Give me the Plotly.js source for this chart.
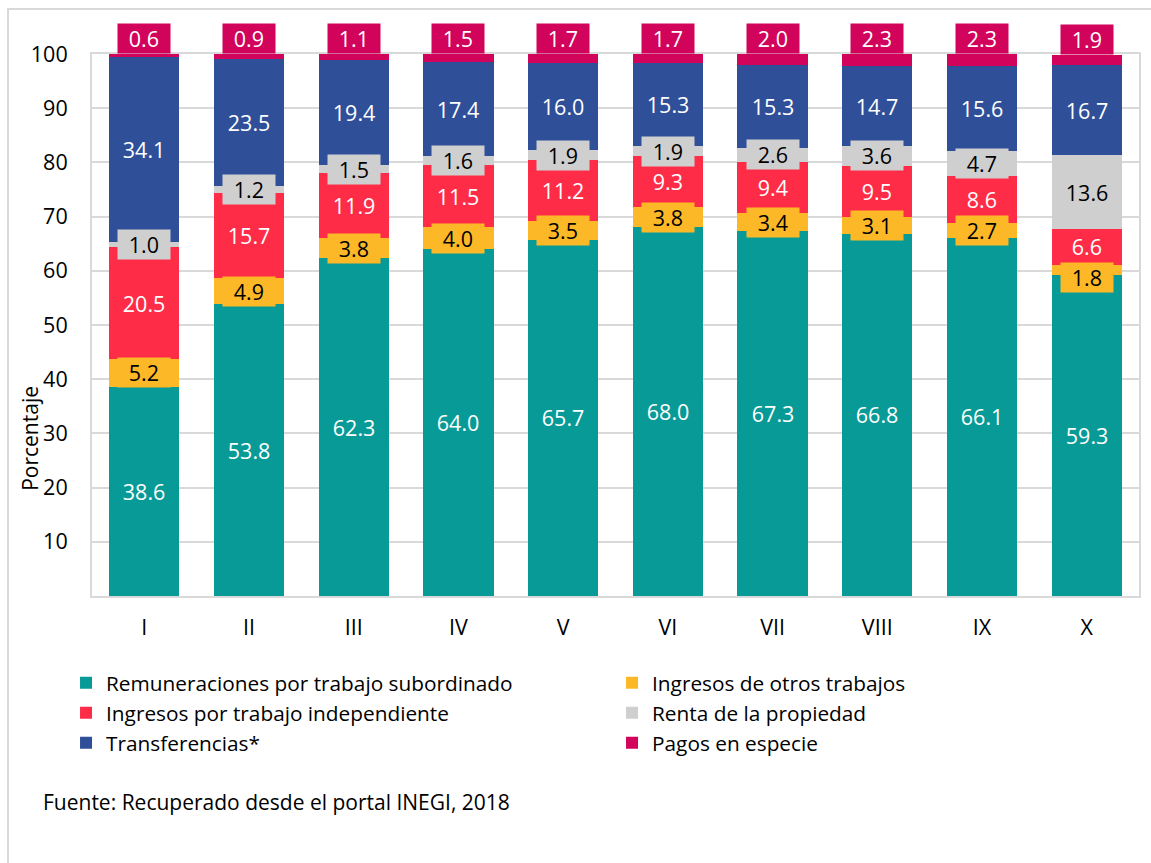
<!DOCTYPE html>
<html>
<head>
<meta charset="utf-8">
<script src="https://cdn.plot.ly/plotly-3.0.1.min.js"></script>
<style>
  html, body { margin: 0; padding: 0; background: #ffffff; }
  #chart { width: 1151px; height: 863px; }
</style>
</head>
<body>
<div id="chart"></div>
<script>
// ---- Data ----
const categories = ['I', 'II', 'III', 'IV', 'V', 'VI', 'VII', 'VIII', 'IX', 'X'];
const remuneraciones = [38.6, 53.8, 62.3, 64.0, 65.7, 68.0, 67.3, 66.8, 66.1, 59.3];
const otrosTrabajos  = [5.2, 4.9, 3.8, 4.0, 3.5, 3.8, 3.4, 3.1, 2.7, 1.8];
const independiente  = [20.5, 15.7, 11.9, 11.5, 11.2, 9.3, 9.4, 9.5, 8.6, 6.6];
const renta          = [1.0, 1.2, 1.5, 1.6, 1.9, 1.9, 2.6, 3.6, 4.7, 13.6];
const transferencias = [34.1, 23.5, 19.4, 17.4, 16.0, 15.3, 15.3, 14.7, 15.6, 16.7];
const especie        = [0.6, 0.9, 1.1, 1.5, 1.7, 1.7, 2.0, 2.3, 2.3, 1.9];

const seriesNames = [
  'Remuneraciones por trabajo subordinado',
  'Ingresos de otros trabajos',
  'Ingresos por trabajo independiente',
  'Renta de la propiedad',
  'Transferencias*',
  'Pagos en especie'
];
const yTicks = [10, 20, 30, 40, 50, 60, 70, 80, 90, 100];
const yAxisTitle = 'Porcentaje';
const sourceNote = 'Fuente: Recuperado desde el portal INEGI, 2018';

// ---- Styles ----
const seriesValues = [remuneraciones, otrosTrabajos, independiente, renta, transferencias, especie];
const colors = ['#079A96', '#FDB827', '#FE2C47', '#CFCFCF', '#2F4F98', '#D1035B'];
const labelColors = ['#ffffff', '#000000', '#ffffff', '#000000', '#ffffff', '#ffffff'];
const FONT = '"Open Sans", "Noto Sans", "DejaVu Sans", sans-serif';
const LABEL_SIZE = 21.5;
const MIN_GAP = 5.6; // minimum distance (in axis units) between stacked label centres

const traces = seriesValues.map((vals, i) => ({
  type: 'bar',
  name: seriesNames[i],
  x: categories,
  y: vals,
  marker: { color: colors[i], line: { width: 0 } },
  // right-hand legend column items get a narrower entry so the legend is not squeezed
  legendwidth: (i % 2 === 1) ? 260 : 501,
  hoverinfo: 'name+y'
}));

// Data labels as boxed annotations on each stacked segment
const annotations = [];
categories.forEach((cat, k) => {
  let base = 0;
  const items = [];
  seriesValues.forEach((vals, s) => {
    const v = vals[k];
    const top = Math.round((base + v) * 10) / 10;
    const isTop = (s === seriesValues.length - 1);
    items.push({ s, v, y: isTop ? top : base + v / 2, isTop });
    base = top;
  });
  // push inner labels down when they would collide with the label above
  for (let i = items.length - 3; i >= 0; i--) {
    const above = items[i + 1];
    if (above.y - items[i].y < MIN_GAP) items[i].y = above.y - MIN_GAP;
  }
  items.forEach(it => {
    const txt = it.v.toFixed(1);
    annotations.push({
      x: cat, y: it.y,
      xref: 'x', yref: 'y',
      text: txt,
      showarrow: false,
      yanchor: it.isTop ? 'bottom' : 'middle',
      font: { family: FONT, size: LABEL_SIZE, color: labelColors[it.s] },
      bgcolor: colors[it.s],
      borderpad: 0,
      width: txt.length * 12.3 + 15
    });
  });
});

// Y-axis title (placed low, as in the reference)
annotations.push({
  xref: 'paper', yref: 'paper',
  x: -0.0592, y: 0.29,
  xanchor: 'center', yanchor: 'middle',
  text: yAxisTitle, textangle: -90,
  showarrow: false,
  font: { family: FONT, size: 21, color: '#000000' }
});
// Source note
annotations.push({
  xref: 'paper', yref: 'paper',
  x: -0.049, y: -0.380,
  xanchor: 'left', yanchor: 'middle',
  text: sourceNote,
  showarrow: false,
  font: { family: FONT, size: 21, color: '#000000' }
});

const layout = {
  width: 1151,
  height: 863,
  margin: { l: 92, r: 12, t: 54, b: 267 },
  paper_bgcolor: '#ffffff',
  plot_bgcolor: '#ffffff',
  barmode: 'stack',
  bargap: 0.33,
  font: { family: FONT, size: 21, color: '#000000' },
  showlegend: true,
  legend: {
    orientation: 'h',
    x: -0.0248, xanchor: 'left',
    y: -0.123, yanchor: 'top',
    entrywidth: 501, entrywidthmode: 'pixels',
    traceorder: 'normal',
    font: { family: FONT, size: 20.8, color: '#000000' }
  },
  xaxis: {
    type: 'category',
    showline: true, mirror: true, linecolor: '#D9D9D9', linewidth: 2,
    showgrid: false, ticks: '',
    ticklabelstandoff: 11,
    tickfont: { family: FONT, size: 21.5, color: '#000000' },
    fixedrange: true
  },
  yaxis: {
    range: [0, 100],
    tickvals: yTicks,
    showline: true, mirror: true, linecolor: '#D9D9D9', linewidth: 2,
    showgrid: true, gridcolor: '#D9D9D9', gridwidth: 2,
    zeroline: false, ticks: '',
    ticklabelstandoff: 18,
    tickfont: { family: FONT, size: 21.5, color: '#000000' },
    fixedrange: true
  },
  annotations: annotations,
  shapes: [{
    type: 'rect', xref: 'paper', yref: 'paper', layer: 'below',
    x0: -0.0802, x1: 1.2, y0: -0.7, y1: 1.083,
    line: { color: '#D9D9D9', width: 2 },
    fillcolor: 'rgba(0,0,0,0)'
  }]
};

Plotly.newPlot('chart', traces, layout, { displayModeBar: false, staticPlot: true });
</script>
</body>
</html>
